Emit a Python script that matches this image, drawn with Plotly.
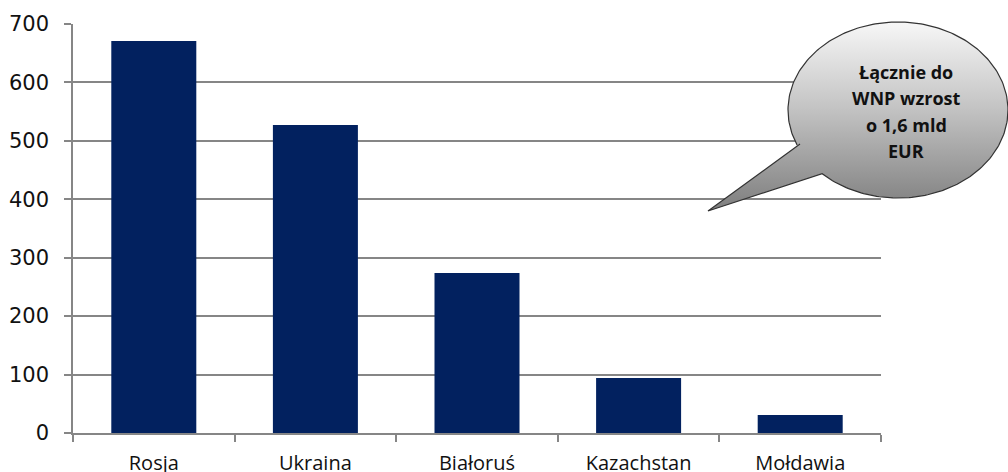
import numpy as np
import plotly.graph_objects as go

categories = ["Rosja", "Ukraina", "Białoruś", "Kazachstan", "Mołdawia"]
values = [671, 527, 274, 94, 31]
y_ticks = [0, 100, 200, 300, 400, 500, 600, 700]
callout_lines = ["Łącznie do", "WNP wzrost", "o 1,6 mld", "EUR"]

W, H = 1008, 472
L, R, T, B = 73, 881, 24, 433

fig = go.Figure()
fig.add_trace(go.Bar(
    x=categories, y=values, marker=dict(color="#02215f", line=dict(width=0)),
    xaxis="x", yaxis="y", showlegend=False, hoverinfo="skip",
))

# speech bubble (decoration) in pixel coords on overlay axes
cx, cy, rx, ry = 898, 110, 110, 88
p1 = (800, 144)
p2 = (823, 173)
tip = (708, 211)
a1 = np.arctan2((p1[1] - cy) / ry, (p1[0] - cx) / rx)
a2 = np.arctan2((p2[1] - cy) / ry, (p2[0] - cx) / rx)
if a2 < a1:
    a2 += 2 * np.pi
t = np.linspace(a1, a2, 240)
bx = list(cx + rx * np.cos(t)) + [tip[0], p1[0]]
by = list(cy + ry * np.sin(t)) + [tip[1], p1[1]]
by = [H - v for v in by]
fig.add_trace(go.Scatter(
    x=bx, y=by, mode="lines", fill="toself",
    line=dict(color="#333333", width=1.2),
    fillgradient=dict(type="vertical", colorscale=[[0, "#7e7e7e"], [0.55, "#c4c4c4"], [1, "#f7f7f7"]]),
    xaxis="x2", yaxis="y2", showlegend=False, hoverinfo="skip",
))

line_y = [72, 98, 125, 151]
for txt, ly in zip(callout_lines, line_y):
    fig.add_annotation(x=cx + 8, y=H - ly, xref="x2", yref="y2", text="<b>%s</b>" % txt,
                       showarrow=False, font=dict(family="Open Sans", size=18, color="#111111"))

fig.update_layout(
    width=W, height=H, margin=dict(l=0, r=0, t=0, b=0),
    paper_bgcolor="white", plot_bgcolor="rgba(0,0,0,0)",
    bargap=0.474,
    xaxis=dict(domain=[L / W, R / W], showline=True, linecolor="#868686", linewidth=1.5,
               ticks="outside", tickson="boundaries", ticklen=7, tickcolor="#868686", tickwidth=1.5,
               tickfont=dict(family="Open Sans", size=20, color="#111111"), ticklabelstandoff=11,
               showgrid=False, automargin=False, fixedrange=True),
    yaxis=dict(domain=[1 - B / H, 1 - T / H], range=[0, 700], tickvals=y_ticks,
               showline=True, linecolor="#868686", linewidth=1.5,
               ticks="outside", ticklen=7, tickcolor="#868686", tickwidth=1.5,
               showgrid=True, gridcolor="#868686", gridwidth=1.5, zeroline=False,
               tickfont=dict(family="DejaVu Sans", size=21, color="#111111"), ticklabelstandoff=11,
               automargin=False, fixedrange=True),
    xaxis2=dict(domain=[0, 1], range=[0, W], visible=False, fixedrange=True, anchor="y2"),
    yaxis2=dict(domain=[0, 1], range=[0, H], visible=False, fixedrange=True, anchor="x2"),
)

fig.write_html("out.html")
